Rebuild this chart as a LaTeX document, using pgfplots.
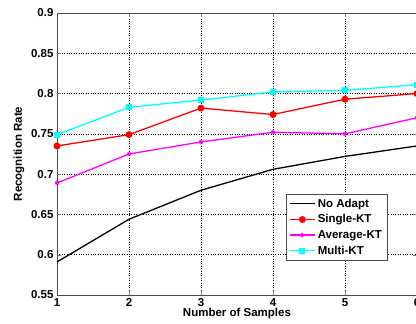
\documentclass[border=0pt]{standalone}
\usepackage{pgfplots}
\pgfplotsset{compat=1.18}
\usepackage{fontspec}
\setmainfont{Liberation Sans}
\definecolor{mred}{rgb}{1,0,0}
\definecolor{mmag}{rgb}{1,0,1}
\definecolor{mcyan}{rgb}{0,1,1}
\begin{document}
\begin{tikzpicture}
\begin{axis}[
  scale only axis,
  width=360pt, height=282pt,
  xmin=1, xmax=6, ymin=0.55, ymax=0.9,
  xtick={1,2,3,4,5,6},
  ytick={0.55,0.6,0.65,0.7,0.75,0.8,0.85,0.9},
  yticklabels={0.55,0.6,0.65,0.7,0.75,0.8,0.85,0.9},
  /pgf/number format/assume math mode=true,
  tick label style={font=\fontsize{11.5}{13}\selectfont\bfseries},
  label style={font=\fontsize{11.5}{13}\selectfont\bfseries},
  xlabel={Number of Samples},
  ylabel={Recognition Rate},
  xlabel style={yshift=5pt},
  ylabel style={yshift=0pt},
  grid=major,
  major grid style={black, dotted, line width=0.5pt},
  tick align=inside,
  major tick length=4pt,
  axis line style={black!70, line width=0.8pt},
  legend style={at={(0.917,0.121)}, anchor=south east, draw=black!70,
    font=\fontsize{11.5}{13}\selectfont\bfseries, row sep=2pt, inner sep=3pt},
  legend cell align=left,
  legend image code/.code={\draw[line width=1.3pt, mark repeat=2,mark phase=2] plot coordinates {(0cm,0cm) (0.45cm,0cm) (0.9cm,0cm)};},
]
\addplot[black, line width=1.3pt] coordinates {(1,0.591) (2,0.644) (3,0.680) (4,0.706) (5,0.722) (6,0.735)};
\addlegendentry{No Adapt}
\addplot[mred, line width=1.3pt, mark=*, mark size=2.8pt] coordinates {(1,0.735) (2,0.749) (3,0.782) (4,0.774) (5,0.793) (6,0.800)};
\addlegendentry{Single-KT}
\addplot[mmag, line width=1.3pt, mark=asterisk, mark size=2.2pt, mark options={line width=1.3pt}] coordinates {(1,0.689) (2,0.725) (3,0.740) (4,0.752) (5,0.750) (6,0.770)};
\addlegendentry{Average-KT}
\addplot[mcyan, line width=1.3pt, mark=square*, mark size=2.3pt] coordinates {(1,0.749) (2,0.783) (3,0.792) (4,0.802) (5,0.804) (6,0.811)};
\addlegendentry{Multi-KT}
\coordinate (O) at (rel axis cs:0,0);
\end{axis}
\pgfresetboundingbox
\path[use as bounding box] ([shift={(-57pt,-29pt)}]O) rectangle ([shift={(359pt,295pt)}]O);
\end{tikzpicture}
\end{document}
